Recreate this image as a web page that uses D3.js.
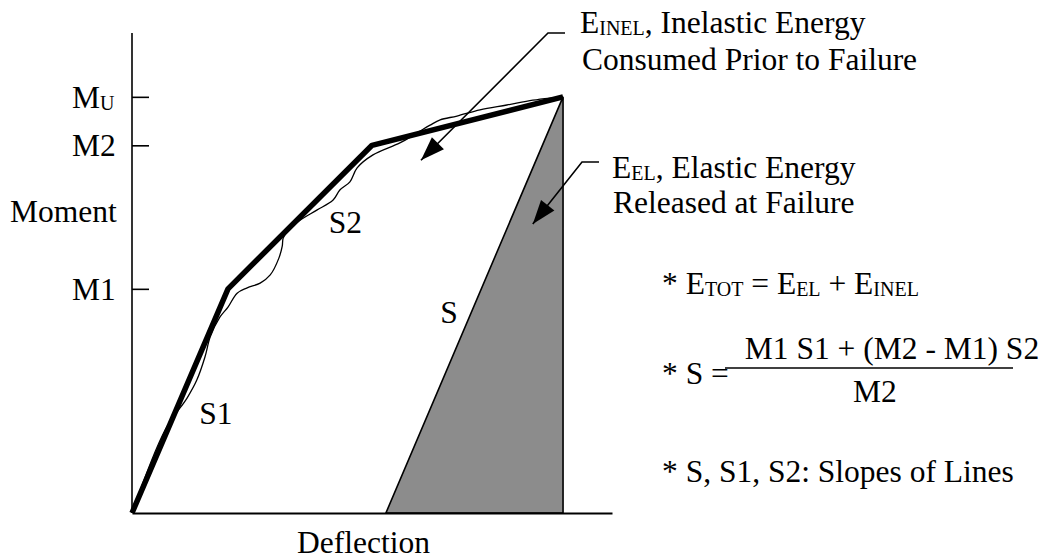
<!DOCTYPE html>
<html>
<head>
<meta charset="utf-8">
<script src="https://cdn.jsdelivr.net/npm/d3@7"></script>
<style>
  html, body { margin: 0; padding: 0; background: #fff; }
  svg text { font-family: "Liberation Serif", "Times New Roman", serif; fill: #000; }
</style>
</head>
<body>
<svg id="chart" width="1050" height="559"></svg>
<script>
// ---------- data (deflection, moment in arbitrary 0-100 units) ----------
const momentTickLabels = ["M1", "M2", "MU"];
const momentTickValues = [46.7, 76.6, 86.7];

// idealised bilinear curve (thick)
const bilinearDeflection = [0, 20.0, 50.0, 89.8];
const bilinearMoment     = [0, 46.7, 76.6, 86.7];

// measured (thin, wavy) curve
const testDeflection = [0, 6.9, 11.5, 13.5, 15.2, 16.3, 18.3, 20.0, 21.9, 24.0, 26.7, 28.8, 30.6, 31.3, 31.5, 32.6, 35.0, 38.5, 41.9, 43.3, 45.4, 46.9, 50.2, 55.8, 59.4, 62.1, 64.2, 67.7, 72.5, 78.1, 83.5, 87.7, 89.8];
const testMoment     = [0, 17.3, 24.0, 27.7, 32.5, 36.7, 40.8, 42.9, 45.8, 46.9, 47.9, 49.6, 53.1, 55.6, 57.3, 59.0, 61.0, 63.1, 65.2, 67.3, 69.0, 71.9, 74.6, 77.1, 79.2, 80.8, 81.9, 82.7, 84.0, 85.0, 86.0, 86.5, 86.7];

// elastic unloading triangle (slope S)
const triangleDeflection = [52.9, 89.8, 89.8];
const triangleMoment     = [0, 0, 86.7];

// annotation arrow tips (data units)
const arrowTipDeflection = [60.2, 83.5];
const arrowTipMoment     = [73.5, 60.2];

// slope labels
const slopeLabels     = ["S1", "S2", "S"];
const slopeLabelX     = [14.0, 41.0, 64.2];
const slopeLabelY     = [18.5, 58.3, 39.6];

// ---------- layout ----------
const svg = d3.select("#chart");
const FS = 31.5, SUB = 20;
const x = d3.scaleLinear().domain([0, 100]).range([132, 612]);
const y = d3.scaleLinear().domain([0, 100]).range([513, 33]);

// triangle
svg.append("path")
  .datum(d3.zip(triangleDeflection, triangleMoment))
  .attr("d", d3.line().x(d => x(d[0])).y(d => y(d[1])).curve(d3.curveLinearClosed))
  .attr("fill", "#8c8c8c").attr("stroke", "#000").attr("stroke-width", 1.6)
  .attr("stroke-linejoin", "miter");

// axes
const yAxis = d3.axisRight(y).tickValues(momentTickValues).tickSize(17).tickFormat("");
const yg = svg.append("g").attr("transform", `translate(${x(0)},0)`).call(yAxis);
yg.select(".domain").attr("d", `M0,${y(0)}V${y(100)}`).attr("stroke", "#000").attr("stroke-width", 1.6);
yg.selectAll(".tick line").attr("stroke", "#000").attr("stroke-width", 1.6);

const xAxis = d3.axisBottom(x).tickValues([]).tickSizeOuter(0);
const xg = svg.append("g").attr("transform", `translate(0,${y(0)})`).call(xAxis);
xg.select(".domain").attr("stroke", "#000").attr("stroke-width", 1.8);

// tick labels
momentTickLabels.forEach((lab, i) => {
  const t = svg.append("text").attr("x", 72).attr("y", y(momentTickValues[i]) + 11)
    .attr("font-size", FS);
  if (lab === "MU") {
    t.append("tspan").text("M");
    t.append("tspan").attr("font-size", SUB).attr("dy", 2).text("U");
  } else {
    t.text(lab);
  }
});

svg.append("text").attr("x", 10).attr("y", 222).attr("font-size", FS).text("Moment");
svg.append("text").attr("x", 297).attr("y", 553).attr("font-size", FS).text("Deflection");

// measured curve
svg.append("path")
  .datum(d3.zip(testDeflection, testMoment))
  .attr("d", d3.line().x(d => x(d[0])).y(d => y(d[1])).curve(d3.curveCatmullRom.alpha(0.5)))
  .attr("fill", "none").attr("stroke", "#000").attr("stroke-width", 1.3);

// bilinear
svg.append("path")
  .datum(d3.zip(bilinearDeflection, bilinearMoment))
  .attr("d", d3.line().x(d => x(d[0])).y(d => y(d[1])))
  .attr("fill", "none").attr("stroke", "#000").attr("stroke-width", 5.5)
  .attr("stroke-linejoin", "bevel");

// slope labels
slopeLabels.forEach((s, i) => {
  svg.append("text").attr("x", x(slopeLabelX[i])).attr("y", y(slopeLabelY[i]))
    .attr("font-size", FS).text(s);
});

// arrow marker
const defs = svg.append("defs");
defs.append("marker").attr("id", "ah").attr("markerUnits", "userSpaceOnUse")
  .attr("viewBox", "-26 -10 28 20").attr("refX", 0).attr("refY", 0)
  .attr("markerWidth", 28).attr("markerHeight", 20).attr("orient", "auto")
  .append("path").attr("d", "M0,0 L-24,-8.5 L-24,8.5 Z").attr("fill", "#000");

// annotations
const annStarts = [[548, 33], [582, 162]];
annStarts.forEach((p, i) => {
  svg.append("path")
    .attr("d", `M${p[0] + 17},${p[1]}H${p[0]}L${x(arrowTipDeflection[i])},${y(arrowTipMoment[i])}`)
    .attr("fill", "none").attr("stroke", "#000").attr("stroke-width", 1.6)
    .attr("marker-end", "url(#ah)");
});

function subText(xp, yp, parts, anchor) {
  const t = svg.append("text").attr("x", xp).attr("y", yp).attr("font-size", FS)
    .attr("text-anchor", anchor || "start");
  let lowered = false;
  parts.forEach(([txt, sub]) => {
    if (sub) {
      t.append("tspan").attr("font-size", SUB).attr("dy", lowered ? 0 : 2).text(txt);
      lowered = true;
    } else {
      t.append("tspan").attr("dy", lowered ? -2 : 0).text(txt);
      lowered = false;
    }
  });
  return t;
}

subText(580, 33, [["E"], ["INEL", true], [", Inelastic Energy"]]);
svg.append("text").attr("x", 582).attr("y", 70).attr("font-size", FS).text("Consumed Prior to Failure");
subText(612, 178, [["E"], ["EL", true], [", Elastic Energy"]]);
svg.append("text").attr("x", 613).attr("y", 213).attr("font-size", FS).text("Released at Failure");

subText(662, 294, [["* E"], ["TOT", true], [" = E"], ["EL", true], [" + E"], ["INEL", true]]);
svg.append("text").attr("x", 892).attr("y", 359).attr("font-size", FS).attr("text-anchor", "middle")
  .text("M1 S1 + (M2 - M1) S2");
svg.append("line").attr("x1", 725).attr("x2", 1013).attr("y1", 368).attr("y2", 368)
  .attr("stroke", "#000").attr("stroke-width", 1.6);
svg.append("text").attr("x", 662).attr("y", 384).attr("font-size", FS).text("* S =");
svg.append("text").attr("x", 875).attr("y", 402).attr("font-size", FS).attr("text-anchor", "middle").text("M2");
svg.append("text").attr("x", 662).attr("y", 482).attr("font-size", FS).text("* S, S1, S2: Slopes of Lines");
</script>
</body>
</html>
